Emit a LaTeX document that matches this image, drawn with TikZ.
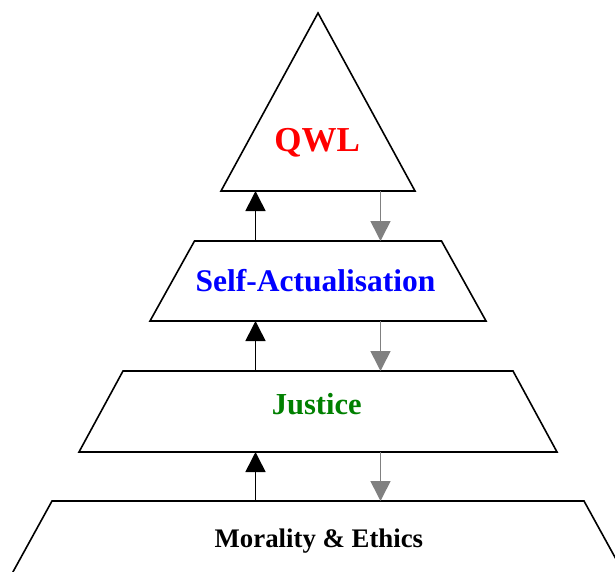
\documentclass[tikz,border=0pt]{standalone}
\usepackage{fontspec}
\setmainfont{Liberation Serif}
\usetikzlibrary{arrows.meta}
\definecolor{qwlred}{RGB}{255,0,0}
\definecolor{selfblue}{RGB}{0,0,255}
\definecolor{justgreen}{RGB}{0,128,0}
\definecolor{downgray}{RGB}{128,128,128}
\begin{document}
\begin{tikzpicture}[x=1pt,y=-1pt,
  layer/.style={draw=black, line width=1.6pt, line join=miter, fill=white},
  label/.style={inner sep=0pt, anchor=base, font=\bfseries},
  uparrow/.style={draw=black, line width=1.6pt, -{Triangle[width=20pt,length=20pt]}},
  downarrow/.style={draw=downgray, line width=1.6pt, -{Triangle[width=20pt,length=20pt]}}]
  \useasboundingbox (0,0) rectangle (615,572);
  \clip (0,0) rectangle (615,572);

  % pyramid levels, top to bottom
  \draw[layer] (318,13) -- (415,191) -- (221,191) -- cycle;
  \draw[layer] (194.5,241) -- (441.5,241) -- (486,321) -- (150,321) -- cycle;
  \draw[layer] (123,371) -- (513,371) -- (557,452) -- (79,452) -- cycle;
  % base level runs past the lower edge
  \draw[layer] (52,501) -- (584,501) -- (633,590) -- (3,590) -- cycle;

  % reference points for the connectors
  \coordinate (upx) at (255.5,0);
  \coordinate (downx) at (380.5,0);
  \coordinate (b1) at (0,191);
  \coordinate (t2) at (0,241);
  \coordinate (b2) at (0,321);
  \coordinate (t3) at (0,371);
  \coordinate (b3) at (0,452);
  \coordinate (t4) at (0,501);

  % upward influence
  \draw[uparrow] (upx |- t2) -- (upx |- b1);
  \draw[uparrow] (upx |- t3) -- (upx |- b2);
  \draw[uparrow] (upx |- t4) -- (upx |- b3);
  % downward feedback
  \draw[downarrow] (downx |- b1) -- (downx |- t2);
  \draw[downarrow] (downx |- b2) -- (downx |- t3);
  \draw[downarrow] (downx |- b3) -- (downx |- t4);

  % level labels
  \node[label, text=qwlred, font=\bfseries\fontsize{35}{40}\selectfont] (qwl) at (317.2,151.7) {QWL};
  \node[label, text=selfblue, font=\bfseries\fontsize{31.5}{36}\selectfont] (selfact) at (315.5,291.7) {Self-Actualisation};
  \node[label, text=justgreen, font=\bfseries\fontsize{30.5}{35}\selectfont] (justice) at (316.7,414.3) {Justice};
  \node[label, text=black, font=\bfseries\fontsize{26.8}{31}\selectfont] (moral) at (318.9,547.3) {Morality \& Ethics};
\end{tikzpicture}
\end{document}
